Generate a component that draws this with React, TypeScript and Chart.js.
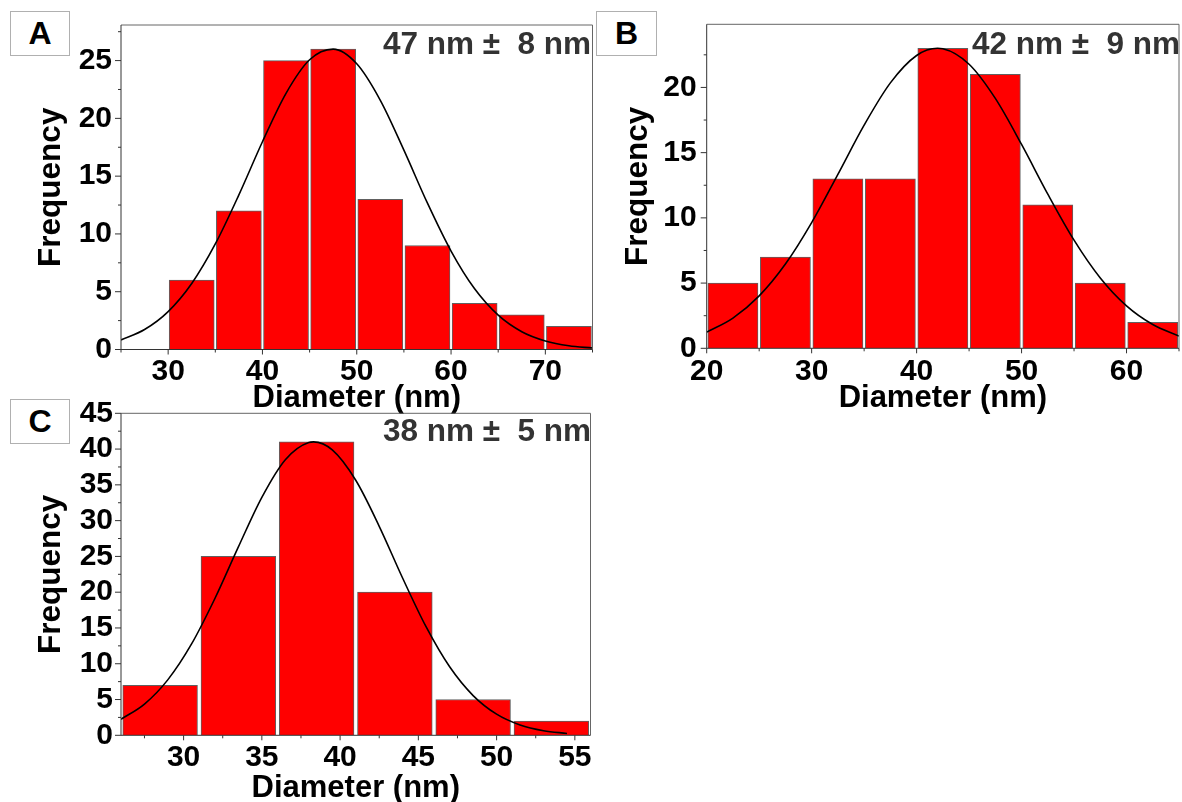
import React, { useEffect, useRef } from 'react';
import { Chart, registerables } from 'chart.js';

Chart.register(...registerables);

const FONT = '"Liberation Sans", Arial, sans-serif';
const BIN_WIDTH = 5;
const X_TITLE = 'Diameter (nm)';
const Y_TITLE = 'Frequency';

// ---------- Panel A ----------
const binStartsA = [30, 35, 40, 45, 50, 55, 60, 65, 70];
const countsA = [6, 12, 25, 26, 13, 9, 4, 3, 2];
const fitXA = [25, 27.5, 30, 32.5, 35, 37.5, 40, 42.5, 45, 47.5, 50, 52.5, 55, 57.5, 60, 62.5, 65, 67.5, 70, 72.5, 75];
const fitYA = [0.83, 1.73, 3.28, 5.71, 9.13, 13.38, 17.98, 22.17, 25.07, 25.99, 24.72, 21.56, 17.25, 12.66, 8.52, 5.25, 2.97, 1.54, 0.74, 0.32, 0.13];
const xRangeA = [25, 75];
const yMaxA = 28.08;
const labelA = '47 nm ±  8 nm';

// ---------- Panel B ----------
const binStartsB = [20, 25, 30, 35, 40, 45, 50, 55, 60];
const countsB = [5, 7, 13, 13, 23, 21, 11, 5, 2];
const fitXB = [20, 22.5, 25, 27.5, 30, 32.5, 35, 37.5, 40, 42, 42.5, 45, 47.5, 50, 52.5, 55, 57.5, 60, 62.5, 65];
const fitYB = [1.24, 2.32, 4.02, 6.46, 9.64, 13.34, 17.11, 20.35, 22.45, 23.0, 22.97, 21.78, 19.16, 15.63, 11.82, 8.29, 5.39, 3.25, 1.82, 0.94];
const xRangeB = [20, 65];
const yMaxB = 24.84;
const labelB = '42 nm ±  9 nm';

// ---------- Panel C ----------
const binStartsC = [26, 31, 36, 41, 46, 51];
const countsC = [7, 25, 41, 20, 5, 2];
const fitXC = [26, 27.5, 29, 30.5, 32, 33.5, 35, 36.5, 38, 38.3, 39.5, 41, 42.5, 44, 45.5, 47, 48.5, 50, 51.5, 53, 54.5];
const fitYC = [2.24, 4.36, 7.78, 12.73, 19.12, 26.33, 33.26, 38.52, 40.93, 41.0, 39.88, 35.64, 29.21, 21.95, 15.14, 9.57, 5.55, 2.95, 1.44, 0.64, 0.26];
const xRangeC = [26, 56];
const yMaxC = 45;
const labelC = '38 nm ±  5 nm';

type Layout = {
  left: number; top: number; width: number; height: number;
  padL: number; padR: number; padT: number; padB: number;
  yAxisW: number; xAxisH: number; yTickPad: number; xTickPad: number;
  noteDx: number; noteDy: number;
};

type PanelProps = {
  binStarts: number[]; counts: number[]; fitX: number[]; fitY: number[];
  xRange: number[]; yMax: number; xMajor: number; xMinor: number; yMajor: number; yMinor: number;
  label: string; layout: Layout;
};

const isMult = (v: number, s: number) => Math.abs(v / s - Math.round(v / s)) < 1e-6;
const buildTicks = (min: number, max: number, step: number) => {
  const out: { value: number }[] = [];
  for (let k = Math.ceil(min / step - 1e-9); k * step <= max + 1e-9; k++) out.push({ value: +(k * step).toFixed(6) });
  return out;
};

function HistPanel(p: PanelProps) {
  const ref = useRef<HTMLCanvasElement>(null);
  useEffect(() => {
    if (!ref.current) return;
    const L = p.layout;
    const bars = p.binStarts.map((s, i) => ({ x: s + BIN_WIDTH / 2, y: p.counts[i] }));
    const fit = p.fitX.map((x, i) => ({ x, y: p.fitY[i] }));

    const framePlugin = {
      id: 'frameAndNote',
      afterDatasetsDraw(chart: any) {
        const { ctx, chartArea: a } = chart;
        const xs = chart.scales.x;
        const ys = chart.scales.y;
        const line = (x1: number, y1: number, x2: number, y2: number) => {
          ctx.beginPath(); ctx.moveTo(x1, y1); ctx.lineTo(x2, y2); ctx.stroke();
        };
        ctx.save();
        ctx.lineWidth = 1;
        ctx.strokeStyle = '#666';
        line(a.left, a.top, a.right, a.top);
        line(a.right, a.top, a.right, a.bottom);
        ctx.strokeStyle = '#333';
        line(a.left, a.top, a.left, a.bottom);
        line(a.left, a.bottom, a.right, a.bottom);
        xs.ticks.forEach((t: any) => {
          const px = xs.getPixelForValue(t.value);
          const len = isMult(t.value, p.xMajor) ? 5 : 3;
          line(px, a.bottom, px, a.bottom + len);
        });
        ys.ticks.forEach((t: any) => {
          const py = ys.getPixelForValue(t.value);
          const len = isMult(t.value, p.yMajor) ? 6 : 3;
          line(a.left - len, py, a.left, py);
        });
        ctx.restore();
      },
      afterDraw(chart: any) {
        const { ctx, chartArea: a } = chart;
        ctx.save();
        ctx.font = `bold 31.5px ${FONT}`;
        ctx.fillStyle = '#333';
        ctx.textAlign = 'right';
        ctx.textBaseline = 'middle';
        ctx.fillText(p.label, a.right + L.noteDx, a.top + L.noteDy);
        ctx.restore();
      },
    };

    const chart = new Chart(ref.current, {
      type: 'bar',
      data: {
        datasets: [
          {
            type: 'line',
            data: fit,
            borderColor: '#000',
            borderWidth: 1.6,
            pointRadius: 0,
            fill: false,
            cubicInterpolationMode: 'monotone',
            order: 0,
          } as any,
          {
            type: 'bar',
            data: bars,
            backgroundColor: '#ff0000',
            borderColor: '#606060',
            borderWidth: 1,
            barThickness: 'flex',
            categoryPercentage: 1,
            barPercentage: 0.955,
            order: 1,
          } as any,
        ],
      },
      options: {
        responsive: false,
        animation: false,
        devicePixelRatio: 1,
        layout: { padding: { left: L.padL, right: L.padR, top: L.padT, bottom: L.padB } },
        plugins: { legend: { display: false }, tooltip: { enabled: false } },
        scales: {
          x: {
            type: 'linear',
            min: p.xRange[0],
            max: p.xRange[1],
            offset: false,
            grid: { display: false, drawTicks: false, offset: false },
            border: { display: false },
            ticks: {
              autoSkip: false,
              maxRotation: 0,
              padding: L.xTickPad,
              color: '#000',
              font: { family: FONT, size: 30, weight: 'bold' },
              callback: (v: any) => (isMult(Number(v), p.xMajor) ? String(v) : ''),
            },
            afterBuildTicks: (s: any) => { s.ticks = buildTicks(p.xRange[0], p.xRange[1], p.xMinor); },
            afterFit: (s: any) => { s.height = L.xAxisH; s.paddingLeft = 0; s.paddingRight = 0; },
            title: {
              display: true, text: X_TITLE, color: '#000', padding: 0,
              font: { family: FONT, size: 31, weight: 'bold', lineHeight: 1 },
            },
          },
          y: {
            type: 'linear',
            min: 0,
            max: p.yMax,
            grid: { display: false, drawTicks: false },
            border: { display: false },
            ticks: {
              autoSkip: false,
              padding: L.yTickPad,
              color: '#000',
              font: { family: FONT, size: 30, weight: 'bold' },
              callback: (v: any) => (isMult(Number(v), p.yMajor) ? String(v) : ''),
            },
            afterBuildTicks: (s: any) => { s.ticks = buildTicks(0, p.yMax, p.yMinor); },
            afterFit: (s: any) => { s.width = L.yAxisW; s.paddingTop = 0; s.paddingBottom = 0; },
            title: {
              display: true, text: Y_TITLE, color: '#000', padding: 0,
              font: { family: FONT, size: 31.5, weight: 'bold', lineHeight: 1 },
            },
          },
        },
      } as any,
      plugins: [framePlugin],
    });
    return () => chart.destroy();
  }, []);
  const L = p.layout;
  return (
    <canvas
      ref={ref}
      width={L.width}
      height={L.height}
      style={{ position: 'absolute', left: L.left, top: L.top, width: L.width, height: L.height }}
    />
  );
}

function LetterBox({ text, left, top, width, height }: { text: string; left: number; top: number; width: number; height: number }) {
  return (
    <div
      style={{
        position: 'absolute', left, top, width, height, boxSizing: 'border-box',
        border: '1px solid #b0b0b0', background: '#fff', display: 'flex',
        alignItems: 'center', justifyContent: 'center',
        font: `bold 32px ${FONT}`, color: '#000',
      }}
    >
      {text}
    </div>
  );
}

export default function App() {
  return (
    <div style={{ position: 'fixed', left: 0, top: 0, width: 1182, height: 802, background: '#fff', overflow: 'hidden' }}>
      <HistPanel
        binStarts={binStartsA} counts={countsA} fitX={fitXA} fitY={fitYA}
        xRange={xRangeA} yMax={yMaxA} xMajor={10} xMinor={5} yMajor={5} yMinor={2.5}
        label={labelA}
        layout={{ left: 0, top: 0, width: 600, height: 420, padL: 36, padR: 7.5, padT: 25, padB: 6.5,
          yAxisW: 85, xAxisH: 64, yTickPad: 9, xTickPad: 4.5, noteDx: -1.5, noteDy: 20 }}
      />
      <HistPanel
        binStarts={binStartsB} counts={countsB} fitX={fitXB} fitY={fitYB}
        xRange={xRangeB} yMax={yMaxB} xMajor={10} xMinor={5} yMajor={5} yMinor={2.5}
        label={labelB}
        layout={{ left: 580, top: 0, width: 602, height: 420, padL: 42.5, padR: 3, padT: 24.3, padB: 6.5,
          yAxisW: 84.2, xAxisH: 65.2, yTickPad: 10, xTickPad: 5.8, noteDx: 1, noteDy: 20.7 }}
      />
      <HistPanel
        binStarts={binStartsC} counts={countsC} fitX={fitXC} fitY={fitYC}
        xRange={xRangeC} yMax={yMaxC} xMajor={5} xMinor={2.5} yMajor={5} yMinor={2.5}
        label={labelC}
        layout={{ left: 0, top: 395, width: 600, height: 412, padL: 36, padR: 9.5, padT: 18.3, padB: 3.5,
          yAxisW: 85, xAxisH: 68.2, yTickPad: 8, xTickPad: 4.3, noteDx: 0.5, noteDy: 18.7 }}
      />
      <LetterBox text="A" left={10} top={11} width={60} height={45} />
      <LetterBox text="B" left={596} top={11} width={61} height={45} />
      <LetterBox text="C" left={10} top={399} width={60} height={45} />
    </div>
  );
}
